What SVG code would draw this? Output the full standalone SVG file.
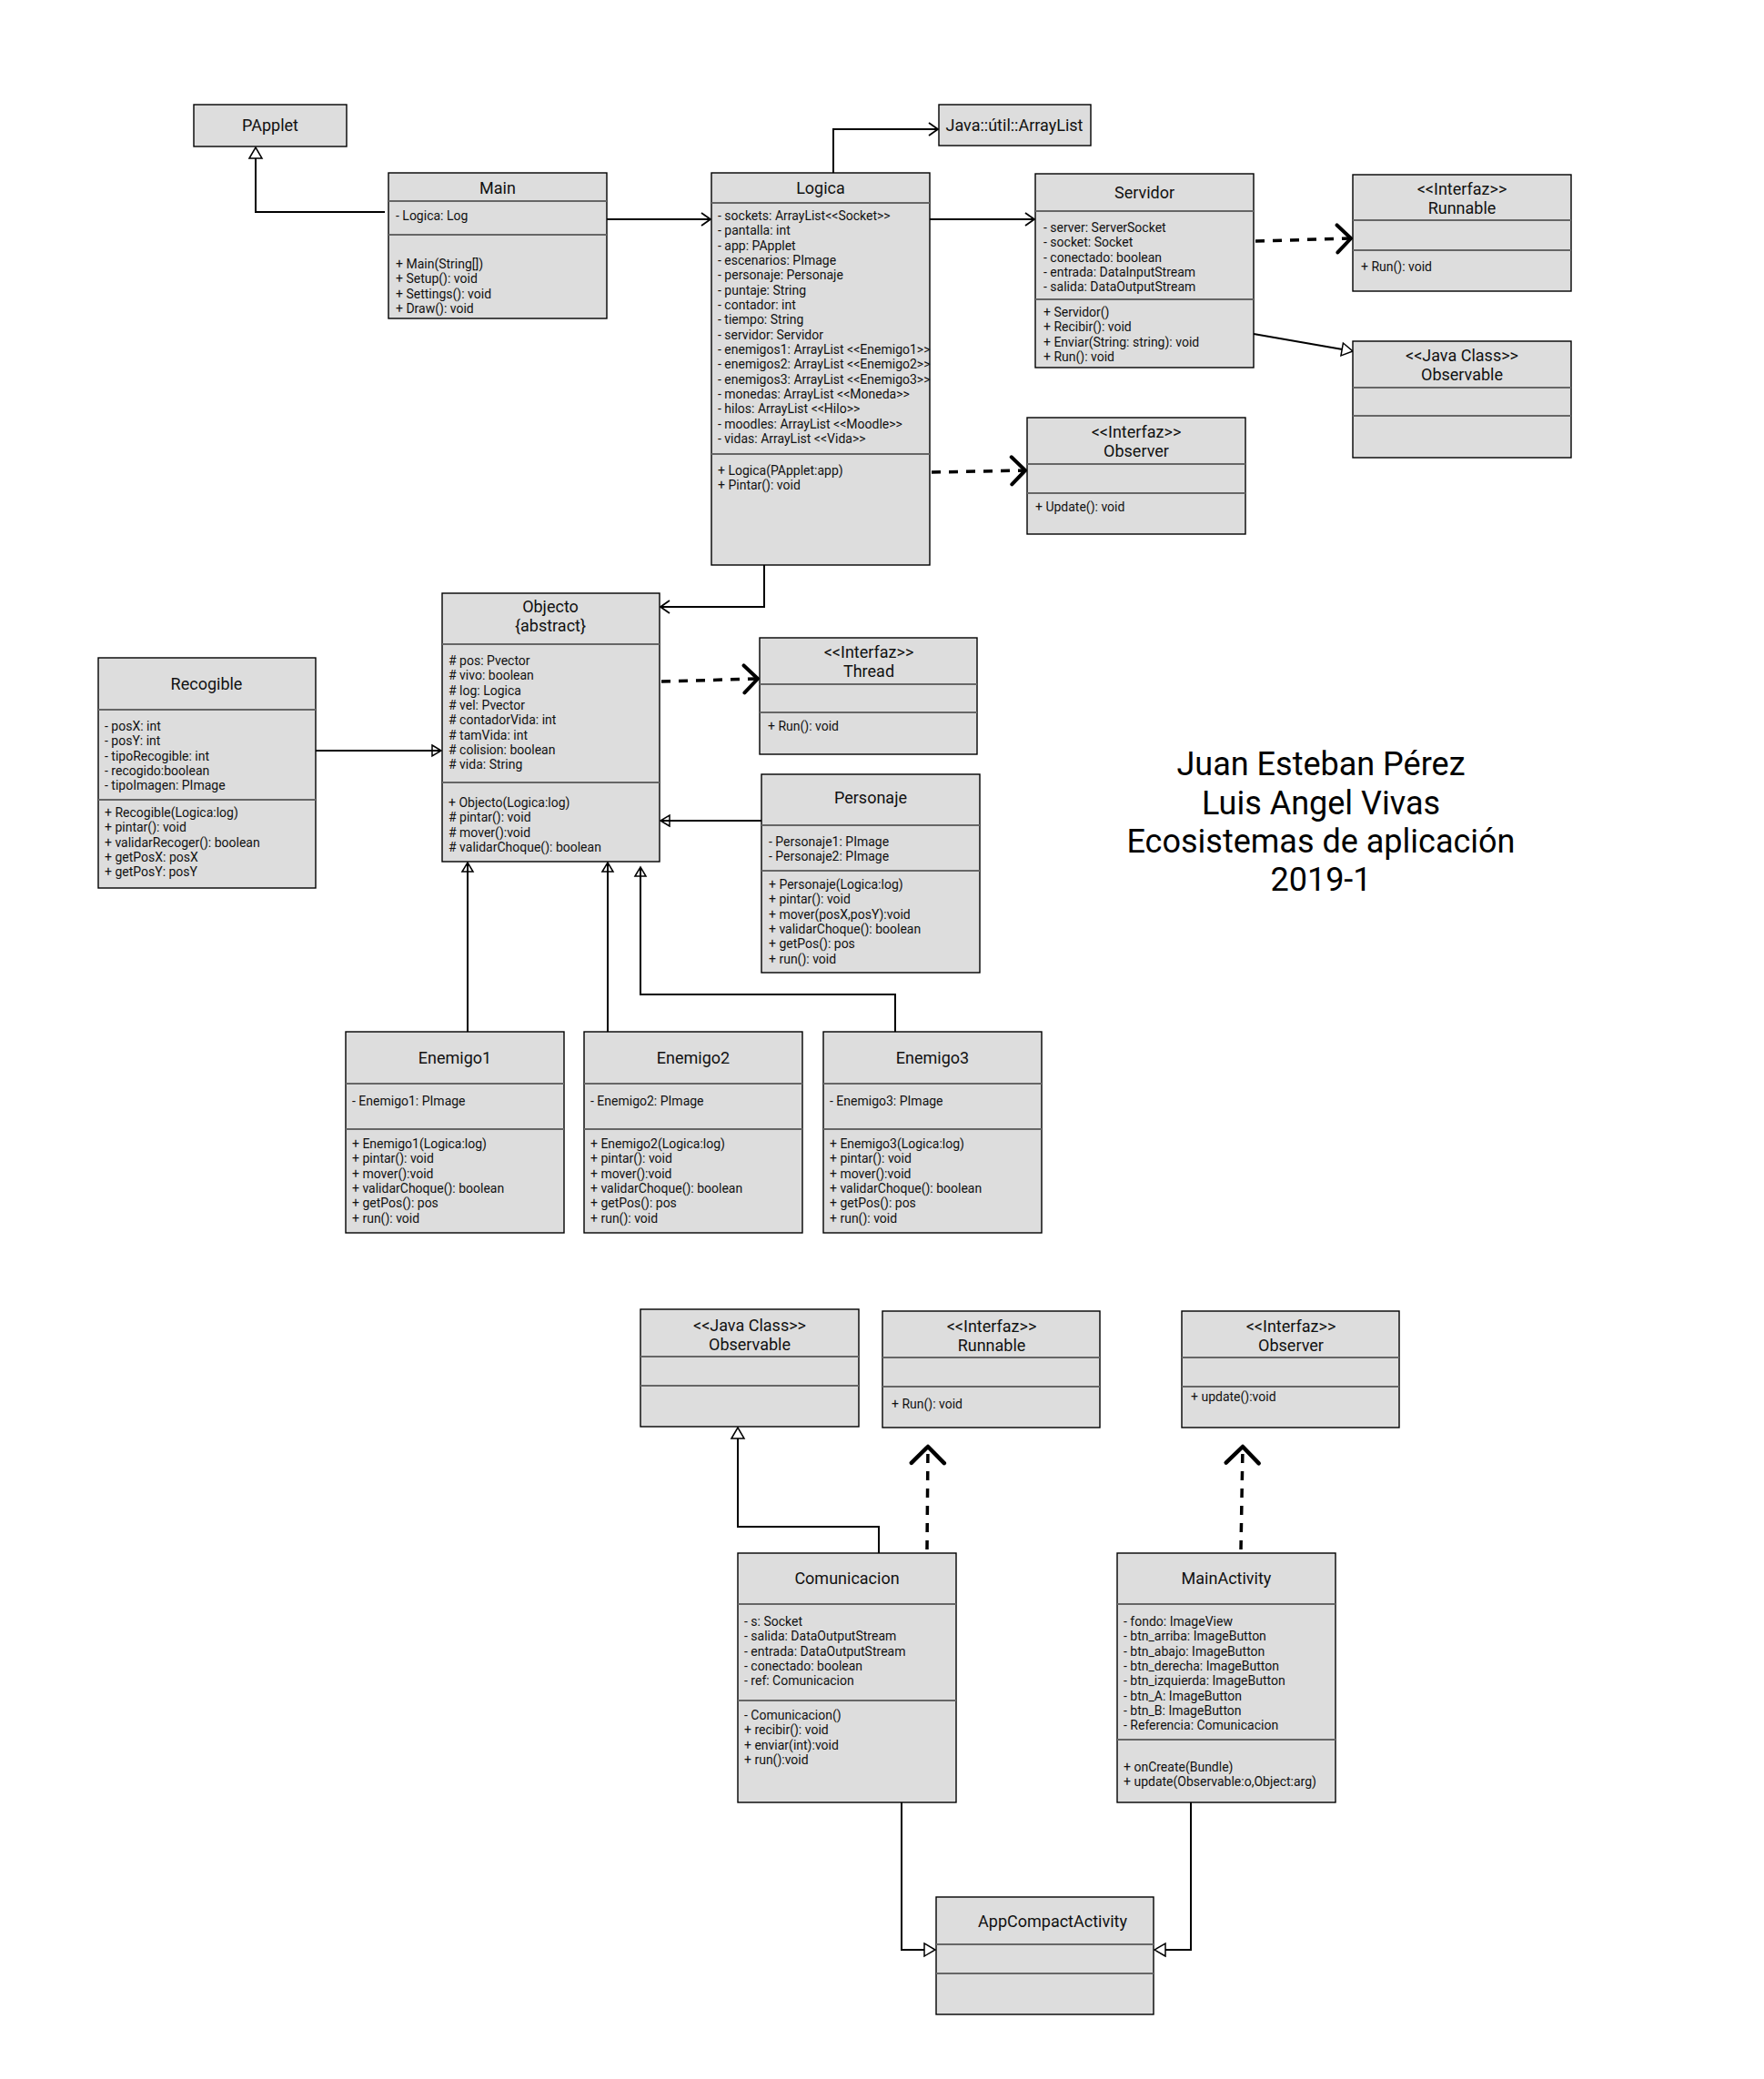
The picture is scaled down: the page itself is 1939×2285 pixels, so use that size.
<svg xmlns="http://www.w3.org/2000/svg" width="1939" height="2285" viewBox="0 0 1939 2285">
  <style>
    .box { fill: #dddddd; stroke: #000; stroke-width: 1.4; }
    .sep { stroke: #666; stroke-width: 1.8; }
    .t { font-family: Roboto, "Liberation Sans", sans-serif; font-size: 18px; fill: #111; text-anchor: middle; }
    .a { font-family: Roboto, "Liberation Sans", sans-serif; font-size: 14px; fill: #111; }
    .big { font-family: Roboto, "Liberation Sans", sans-serif; font-size: 36px; fill: #000; text-anchor: middle; }
    .ln { fill: none; stroke: #000; stroke-width: 2; }
    .dash { fill: none; stroke: #000; stroke-width: 3.5; stroke-dasharray: 10 9; }
  </style>
  <defs>
    <marker id="open" markerUnits="userSpaceOnUse" markerWidth="14" markerHeight="18" refX="11" refY="8" orient="auto" overflow="visible">
      <path d="M1,1 L11,8 L1,15" fill="none" stroke="#000" stroke-width="1.8"/>
    </marker>
    <marker id="chev" markerUnits="userSpaceOnUse" markerWidth="20" markerHeight="34" refX="17" refY="16" orient="auto" overflow="visible">
      <path d="M2,1 L17,16 L2,31" fill="none" stroke="#000" stroke-width="4" stroke-linecap="round" stroke-linejoin="round"/>
    </marker>
    <marker id="chevL" markerUnits="userSpaceOnUse" markerWidth="22" markerHeight="40" refX="19" refY="19" orient="auto" overflow="visible">
      <path d="M1,1 L19,19 L1,37" fill="none" stroke="#000" stroke-width="4.5" stroke-linecap="round" stroke-linejoin="round"/>
    </marker>
    <marker id="tri" markerUnits="userSpaceOnUse" markerWidth="16" markerHeight="18" refX="13" refY="8" orient="auto" overflow="visible">
      <path d="M1,1 L13,8 L1,15 Z" fill="#fff" stroke="#000" stroke-width="1.5"/>
    </marker>
    <marker id="triO" markerUnits="userSpaceOnUse" markerWidth="16" markerHeight="18" refX="11" refY="7" orient="auto" overflow="visible">
      <path d="M1,1 L11,7 L1,13 Z" fill="none" stroke="#000" stroke-width="1.5"/>
    </marker>
  </defs>
  <rect width="1939" height="2285" fill="#fff"/>

  <!-- relations -->
  <g id="connectors">
    <polyline class="ln" points="423,233 281,233 281,162" marker-end="url(#tri)"/>
    <line class="ln" x1="667" y1="241" x2="781" y2="241" marker-end="url(#open)"/>
    <polyline class="ln" points="916,190 916,142 1031,142" marker-end="url(#open)"/>
    <line class="ln" x1="1022" y1="241" x2="1137" y2="241" marker-end="url(#open)"/>
    <line class="dash" x1="1380" y1="265" x2="1485" y2="262" marker-end="url(#chev)"/>
    <line class="ln" x1="1378" y1="367" x2="1487" y2="386" marker-end="url(#tri)"/>
    <line class="dash" x1="1024" y1="519" x2="1127" y2="517" marker-end="url(#chev)"/>
    <polyline class="ln" points="840,621 840,667 726,667" marker-end="url(#open)"/>
    <line class="dash" x1="727" y1="749" x2="833" y2="746" marker-end="url(#chev)"/>
    <line class="ln" x1="347" y1="825" x2="485" y2="825" marker-end="url(#triO)"/>
    <line class="ln" x1="837" y1="902" x2="726" y2="902" marker-end="url(#triO)"/>
    <line class="ln" x1="514" y1="1134" x2="514" y2="948" marker-end="url(#triO)"/>
    <line class="ln" x1="668" y1="1134" x2="668" y2="948" marker-end="url(#triO)"/>
    <polyline class="ln" points="984,1134 984,1093 704,1093 704,953" marker-end="url(#triO)"/>

    <polyline class="ln" points="966,1707 966,1678 811,1678 811,1569" marker-end="url(#tri)"/>
    <line class="dash" x1="1019" y1="1703" x2="1020" y2="1590" marker-end="url(#chevL)"/>
    <line class="dash" x1="1364" y1="1703" x2="1366" y2="1590" marker-end="url(#chevL)"/>
    <polyline class="ln" points="991,1981 991,2143 1028,2143" marker-end="url(#tri)"/>
    <polyline class="ln" points="1309,1981 1309,2143 1269,2143" marker-end="url(#tri)"/>
  </g>

  <g id="PApplet">
    <rect class="box" x="213" y="115" width="168" height="46"/>
    <text class="t" x="297" y="144">PApplet</text>
  </g>

  <g id="Main">
    <rect class="box" x="427" y="190" width="240" height="160"/>
    <line class="sep" x1="427" y1="221" x2="667" y2="221"/>
    <line class="sep" x1="427" y1="258" x2="667" y2="258"/>
    <text class="t" x="547" y="213">Main</text>
    <text class="a" x="435" y="242">- Logica: Log</text>
    <text class="a" x="435" y="295">
      <tspan x="435" dy="0">+ Main(String[])</tspan>
      <tspan x="435" dy="16.3">+ Setup(): void</tspan>
      <tspan x="435" dy="16.3">+ Settings(): void</tspan>
      <tspan x="435" dy="16.3">+ Draw(): void</tspan>
    </text>
  </g>

  <g id="ArrayList">
    <rect class="box" x="1032" y="115" width="167" height="45"/>
    <text class="t" x="1115" y="144">Java::útil::ArrayList</text>
  </g>

  <g id="Logica">
    <rect class="box" x="782" y="190" width="240" height="431"/>
    <line class="sep" x1="782" y1="223" x2="1022" y2="223"/>
    <line class="sep" x1="782" y1="499" x2="1022" y2="499"/>
    <text class="t" x="902" y="213">Logica</text>
    <text class="a" x="789" y="242">
      <tspan x="789" dy="0">- sockets: ArrayList&lt;&lt;Socket&gt;&gt;</tspan>
      <tspan x="789" dy="16.33">- pantalla: int</tspan>
      <tspan x="789" dy="16.33">- app: PApplet</tspan>
      <tspan x="789" dy="16.33">- escenarios: PImage</tspan>
      <tspan x="789" dy="16.33">- personaje: Personaje</tspan>
      <tspan x="789" dy="16.33">- puntaje: String</tspan>
      <tspan x="789" dy="16.33">- contador: int</tspan>
      <tspan x="789" dy="16.33">- tiempo: String</tspan>
      <tspan x="789" dy="16.33">- servidor: Servidor</tspan>
      <tspan x="789" dy="16.33">- enemigos1: ArrayList &lt;&lt;Enemigo1&gt;&gt;</tspan>
      <tspan x="789" dy="16.33">- enemigos2: ArrayList &lt;&lt;Enemigo2&gt;&gt;</tspan>
      <tspan x="789" dy="16.33">- enemigos3: ArrayList &lt;&lt;Enemigo3&gt;&gt;</tspan>
      <tspan x="789" dy="16.33">- monedas: ArrayList &lt;&lt;Moneda&gt;&gt;</tspan>
      <tspan x="789" dy="16.33">- hilos: ArrayList &lt;&lt;Hilo&gt;&gt;</tspan>
      <tspan x="789" dy="16.33">- moodles: ArrayList &lt;&lt;Moodle&gt;&gt;</tspan>
      <tspan x="789" dy="16.33">- vidas: ArrayList &lt;&lt;Vida&gt;&gt;</tspan>
    </text>
    <text class="a" x="789" y="522">
      <tspan x="789" dy="0">+ Logica(PApplet:app)</tspan>
      <tspan x="789" dy="16.3">+ Pintar(): void</tspan>
    </text>
  </g>

  <g id="Servidor">
    <rect class="box" x="1138" y="191" width="240" height="213"/>
    <line class="sep" x1="1138" y1="232" x2="1378" y2="232"/>
    <line class="sep" x1="1138" y1="329" x2="1378" y2="329"/>
    <text class="t" x="1258" y="218">Servidor</text>
    <text class="a" x="1147" y="255">
      <tspan x="1147" dy="0">- server: ServerSocket</tspan>
      <tspan x="1147" dy="16.3">- socket: Socket</tspan>
      <tspan x="1147" dy="16.3">- conectado: boolean</tspan>
      <tspan x="1147" dy="16.3">- entrada: DataInputStream</tspan>
      <tspan x="1147" dy="16.3">- salida: DataOutputStream</tspan>
    </text>
    <text class="a" x="1147" y="348">
      <tspan x="1147" dy="0">+ Servidor()</tspan>
      <tspan x="1147" dy="16.3">+ Recibir(): void</tspan>
      <tspan x="1147" dy="16.3">+ Enviar(String: string): void</tspan>
      <tspan x="1147" dy="16.3">+ Run(): void</tspan>
    </text>
  </g>

  <g id="Runnable">
    <rect class="box" x="1487" y="192" width="240" height="128"/>
    <line class="sep" x1="1487" y1="242" x2="1727" y2="242"/>
    <line class="sep" x1="1487" y1="275" x2="1727" y2="275"/>
    <text class="t" x="1607" y="214">&lt;&lt;Interfaz&gt;&gt;</text>
    <text class="t" x="1607" y="235">Runnable</text>
    <text class="a" x="1496" y="298">+ Run(): void</text>
  </g>

  <g id="Observable">
    <rect class="box" x="1487" y="375" width="240" height="128"/>
    <line class="sep" x1="1487" y1="426" x2="1727" y2="426"/>
    <line class="sep" x1="1487" y1="457" x2="1727" y2="457"/>
    <text class="t" x="1607" y="397">&lt;&lt;Java Class&gt;&gt;</text>
    <text class="t" x="1607" y="418">Observable</text>
  </g>

  <g id="Observer">
    <rect class="box" x="1129" y="459" width="240" height="128"/>
    <line class="sep" x1="1129" y1="510" x2="1369" y2="510"/>
    <line class="sep" x1="1129" y1="542" x2="1369" y2="542"/>
    <text class="t" x="1249" y="481">&lt;&lt;Interfaz&gt;&gt;</text>
    <text class="t" x="1249" y="502">Observer</text>
    <text class="a" x="1138" y="562">+ Update(): void</text>
  </g>

  <g id="Objecto">
    <rect class="box" x="486" y="652" width="239" height="295"/>
    <line class="sep" x1="486" y1="708" x2="725" y2="708"/>
    <line class="sep" x1="486" y1="860" x2="725" y2="860"/>
    <text class="t" x="605" y="673">Objecto</text>
    <text class="t" x="605" y="694">{abstract}</text>
    <text class="a" x="493" y="731">
      <tspan x="493" dy="0"># pos: Pvector</tspan>
      <tspan x="493" dy="16.3"># vivo: boolean</tspan>
      <tspan x="493" dy="16.3"># log: Logica</tspan>
      <tspan x="493" dy="16.3"># vel: Pvector</tspan>
      <tspan x="493" dy="16.3"># contadorVida: int</tspan>
      <tspan x="493" dy="16.3"># tamVida: int</tspan>
      <tspan x="493" dy="16.3"># colision: boolean</tspan>
      <tspan x="493" dy="16.3"># vida: String</tspan>
    </text>
    <text class="a" x="493" y="887">
      <tspan x="493" dy="0">+ Objecto(Logica:log)</tspan>
      <tspan x="493" dy="16.3"># pintar(): void</tspan>
      <tspan x="493" dy="16.3"># mover():void</tspan>
      <tspan x="493" dy="16.3"># validarChoque(): boolean</tspan>
    </text>
  </g>

  <g id="Thread">
    <rect class="box" x="835" y="701" width="239" height="128"/>
    <line class="sep" x1="835" y1="752" x2="1074" y2="752"/>
    <line class="sep" x1="835" y1="783" x2="1074" y2="783"/>
    <text class="t" x="955" y="723">&lt;&lt;Interfaz&gt;&gt;</text>
    <text class="t" x="955" y="744">Thread</text>
    <text class="a" x="844" y="803">+ Run(): void</text>
  </g>

  <g id="Recogible">
    <rect class="box" x="108" y="723" width="239" height="253"/>
    <line class="sep" x1="108" y1="780" x2="347" y2="780"/>
    <line class="sep" x1="108" y1="879" x2="347" y2="879"/>
    <text class="t" x="227" y="758">Recogible</text>
    <text class="a" x="115" y="803">
      <tspan x="115" dy="0">- posX: int</tspan>
      <tspan x="115" dy="16.3">- posY: int</tspan>
      <tspan x="115" dy="16.3">- tipoRecogible: int</tspan>
      <tspan x="115" dy="16.3">- recogido:boolean</tspan>
      <tspan x="115" dy="16.3">- tipoImagen: PImage</tspan>
    </text>
    <text class="a" x="115" y="898">
      <tspan x="115" dy="0">+ Recogible(Logica:log)</tspan>
      <tspan x="115" dy="16.3">+ pintar(): void</tspan>
      <tspan x="115" dy="16.3">+ validarRecoger(): boolean</tspan>
      <tspan x="115" dy="16.3">+ getPosX: posX</tspan>
      <tspan x="115" dy="16.3">+ getPosY: posY</tspan>
    </text>
  </g>

  <g id="Personaje">
    <rect class="box" x="837" y="851" width="240" height="218"/>
    <line class="sep" x1="837" y1="907" x2="1077" y2="907"/>
    <line class="sep" x1="837" y1="957" x2="1077" y2="957"/>
    <text class="t" x="957" y="883">Personaje</text>
    <text class="a" x="845" y="930">
      <tspan x="845" dy="0">- Personaje1: PImage</tspan>
      <tspan x="845" dy="16.3">- Personaje2: PImage</tspan>
    </text>
    <text class="a" x="845" y="977">
      <tspan x="845" dy="0">+ Personaje(Logica:log)</tspan>
      <tspan x="845" dy="16.3">+ pintar(): void</tspan>
      <tspan x="845" dy="16.3">+ mover(posX,posY):void</tspan>
      <tspan x="845" dy="16.3">+ validarChoque(): boolean</tspan>
      <tspan x="845" dy="16.3">+ getPos(): pos</tspan>
      <tspan x="845" dy="16.3">+ run(): void</tspan>
    </text>
  </g>

  <g id="Enemigo1">
    <rect class="box" x="380" y="1134" width="240" height="221"/>
    <line class="sep" x1="380" y1="1191" x2="620" y2="1191"/>
    <line class="sep" x1="380" y1="1241" x2="620" y2="1241"/>
    <text class="t" x="500" y="1169">Enemigo1</text>
    <text class="a" x="387" y="1215">- Enemigo1: PImage</text>
    <text class="a" x="387" y="1262">
      <tspan x="387" dy="0">+ Enemigo1(Logica:log)</tspan>
      <tspan x="387" dy="16.3">+ pintar(): void</tspan>
      <tspan x="387" dy="16.3">+ mover():void</tspan>
      <tspan x="387" dy="16.3">+ validarChoque(): boolean</tspan>
      <tspan x="387" dy="16.3">+ getPos(): pos</tspan>
      <tspan x="387" dy="16.3">+ run(): void</tspan>
    </text>
  </g>

  <g id="Enemigo2">
    <rect class="box" x="642" y="1134" width="240" height="221"/>
    <line class="sep" x1="642" y1="1191" x2="882" y2="1191"/>
    <line class="sep" x1="642" y1="1241" x2="882" y2="1241"/>
    <text class="t" x="762" y="1169">Enemigo2</text>
    <text class="a" x="649" y="1215">- Enemigo2: PImage</text>
    <text class="a" x="649" y="1262">
      <tspan x="649" dy="0">+ Enemigo2(Logica:log)</tspan>
      <tspan x="649" dy="16.3">+ pintar(): void</tspan>
      <tspan x="649" dy="16.3">+ mover():void</tspan>
      <tspan x="649" dy="16.3">+ validarChoque(): boolean</tspan>
      <tspan x="649" dy="16.3">+ getPos(): pos</tspan>
      <tspan x="649" dy="16.3">+ run(): void</tspan>
    </text>
  </g>

  <g id="Enemigo3">
    <rect class="box" x="905" y="1134" width="240" height="221"/>
    <line class="sep" x1="905" y1="1191" x2="1145" y2="1191"/>
    <line class="sep" x1="905" y1="1241" x2="1145" y2="1241"/>
    <text class="t" x="1025" y="1169">Enemigo3</text>
    <text class="a" x="912" y="1215">- Enemigo3: PImage</text>
    <text class="a" x="912" y="1262">
      <tspan x="912" dy="0">+ Enemigo3(Logica:log)</tspan>
      <tspan x="912" dy="16.3">+ pintar(): void</tspan>
      <tspan x="912" dy="16.3">+ mover():void</tspan>
      <tspan x="912" dy="16.3">+ validarChoque(): boolean</tspan>
      <tspan x="912" dy="16.3">+ getPos(): pos</tspan>
      <tspan x="912" dy="16.3">+ run(): void</tspan>
    </text>
  </g>

  <g id="credits">
    <text class="big" x="1452" y="852">Juan Esteban Pérez</text>
    <text class="big" x="1452" y="895">Luis Angel Vivas</text>
    <text class="big" x="1452" y="937">Ecosistemas de aplicación</text>
    <text class="big" x="1452" y="979">2019-1</text>
  </g>

  <g id="Observable2">
    <rect class="box" x="704" y="1439" width="240" height="129"/>
    <line class="sep" x1="704" y1="1491" x2="944" y2="1491"/>
    <line class="sep" x1="704" y1="1523" x2="944" y2="1523"/>
    <text class="t" x="824" y="1463">&lt;&lt;Java Class&gt;&gt;</text>
    <text class="t" x="824" y="1484">Observable</text>
  </g>

  <g id="Runnable2">
    <rect class="box" x="970" y="1441" width="239" height="128"/>
    <line class="sep" x1="970" y1="1492" x2="1209" y2="1492"/>
    <line class="sep" x1="970" y1="1524" x2="1209" y2="1524"/>
    <text class="t" x="1090" y="1464">&lt;&lt;Interfaz&gt;&gt;</text>
    <text class="t" x="1090" y="1485">Runnable</text>
    <text class="a" x="980" y="1548">+ Run(): void</text>
  </g>

  <g id="Observer2">
    <rect class="box" x="1299" y="1441" width="239" height="128"/>
    <line class="sep" x1="1299" y1="1492" x2="1538" y2="1492"/>
    <line class="sep" x1="1299" y1="1524" x2="1538" y2="1524"/>
    <text class="t" x="1419" y="1464">&lt;&lt;Interfaz&gt;&gt;</text>
    <text class="t" x="1419" y="1485">Observer</text>
    <text class="a" x="1309" y="1540">+ update():void</text>
  </g>

  <g id="Comunicacion">
    <rect class="box" x="811" y="1707" width="240" height="274"/>
    <line class="sep" x1="811" y1="1763" x2="1051" y2="1763"/>
    <line class="sep" x1="811" y1="1869" x2="1051" y2="1869"/>
    <text class="t" x="931" y="1741">Comunicacion</text>
    <text class="a" x="818" y="1787">
      <tspan x="818" dy="0">- s: Socket</tspan>
      <tspan x="818" dy="16.3">- salida: DataOutputStream</tspan>
      <tspan x="818" dy="16.3">- entrada: DataOutputStream</tspan>
      <tspan x="818" dy="16.3">- conectado: boolean</tspan>
      <tspan x="818" dy="16.3">- ref: Comunicacion</tspan>
    </text>
    <text class="a" x="818" y="1890">
      <tspan x="818" dy="0">- Comunicacion()</tspan>
      <tspan x="818" dy="16.3">+ recibir(): void</tspan>
      <tspan x="818" dy="16.3">+ enviar(int):void</tspan>
      <tspan x="818" dy="16.3">+ run():void</tspan>
    </text>
  </g>

  <g id="MainActivity">
    <rect class="box" x="1228" y="1707" width="240" height="274"/>
    <line class="sep" x1="1228" y1="1763" x2="1468" y2="1763"/>
    <line class="sep" x1="1228" y1="1912" x2="1468" y2="1912"/>
    <text class="t" x="1348" y="1741">MainActivity</text>
    <text class="a" x="1235" y="1787">
      <tspan x="1235" dy="0">- fondo: ImageView</tspan>
      <tspan x="1235" dy="16.3">- btn_arriba: ImageButton</tspan>
      <tspan x="1235" dy="16.3">- btn_abajo: ImageButton</tspan>
      <tspan x="1235" dy="16.3">- btn_derecha: ImageButton</tspan>
      <tspan x="1235" dy="16.3">- btn_izquierda: ImageButton</tspan>
      <tspan x="1235" dy="16.3">- btn_A: ImageButton</tspan>
      <tspan x="1235" dy="16.3">- btn_B: ImageButton</tspan>
      <tspan x="1235" dy="16.3">- Referencia: Comunicacion</tspan>
    </text>
    <text class="a" x="1235" y="1947">
      <tspan x="1235" dy="0">+ onCreate(Bundle)</tspan>
      <tspan x="1235" dy="16.3">+ update(Observable:o,Object:arg)</tspan>
    </text>
  </g>

  <g id="AppCompactActivity">
    <rect class="box" x="1029" y="2085" width="239" height="129"/>
    <line class="sep" x1="1029" y1="2137" x2="1268" y2="2137"/>
    <line class="sep" x1="1029" y1="2169" x2="1268" y2="2169"/>
    <text class="t" x="1157" y="2118">AppCompactActivity</text>
  </g>
</svg>
